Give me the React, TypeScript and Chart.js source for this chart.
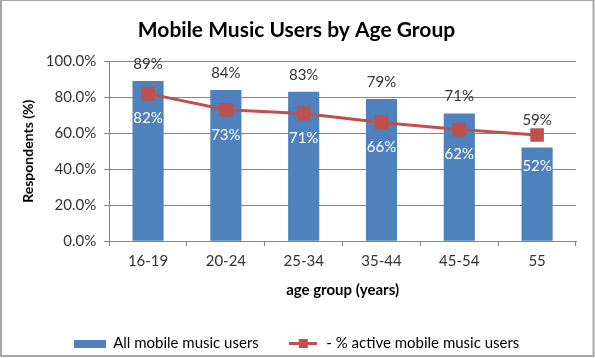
import React, { useEffect, useRef } from "react";
import { Chart, registerables } from "chart.js";

Chart.register(...registerables);

const categories = ["16-19", "20-24", "25-34", "35-44", "45-54", "55"];
const allUsers = [89, 84, 83, 79, 71, 52];
const activeUsers = [82, 73, 71, 66, 62, 59];
const yTicks = [0, 20, 40, 60, 80, 100];

const BLUE = "#4F81BD";
const RED = "#C0504D";
const FONT = "Lato, 'Open Sans', sans-serif";

function makeBarSwatch() {
  const c = document.createElement("canvas");
  c.width = 32;
  c.height = 8;
  const g = c.getContext("2d")!;
  g.fillStyle = BLUE;
  g.fillRect(0, 0, 32, 8);
  return c;
}
function makeLineSwatch() {
  const c = document.createElement("canvas");
  c.width = 28;
  c.height = 9;
  const g = c.getContext("2d")!;
  g.strokeStyle = RED;
  g.lineWidth = 3;
  g.beginPath();
  g.moveTo(0, 4.5);
  g.lineTo(28, 4.5);
  g.stroke();
  g.fillStyle = RED;
  g.fillRect(10, 0, 9, 9);
  return c;
}

const labelPlugin = {
  id: "valueLabels",
  afterDatasetsDraw(chart: any) {
    const ctx = chart.ctx;
    const barMeta = chart.getDatasetMeta(0);
    const lineMeta = chart.getDatasetMeta(1);
    ctx.save();
    ctx.font = `15px ${FONT}`;
    ctx.textAlign = "center";
    ctx.textBaseline = "middle";
    barMeta.data.forEach((bar: any, i: number) => {
      const pt = lineMeta.data[i];
      const bv = chart.data.datasets[0].data[i];
      const lv = chart.data.datasets[1].data[i];
      if (lv > bv) {
        ctx.fillStyle = "#333333";
        ctx.fillText(lv + "%", pt.x, pt.y - 15);
        ctx.fillStyle = "#ffffff";
        ctx.fillText(bv + "%", bar.x, bar.y + 19);
      } else {
        ctx.fillStyle = "#333333";
        ctx.fillText(bv + "%", bar.x, bar.y - 17);
        ctx.fillStyle = "#ffffff";
        ctx.fillText(lv + "%", pt.x, pt.y + 25);
      }
    });
    ctx.restore();
  },
};

const framePlugin = {
  id: "frame",
  afterDraw(chart: any) {
    const ctx = chart.ctx;
    ctx.save();
    ctx.strokeStyle = "#a6a6a6";
    ctx.lineWidth = 2;
    ctx.strokeRect(1, 0, chart.width - 2.5, chart.height - 2);
    ctx.restore();
  },
};

export default function App() {
  const ref = useRef<HTMLCanvasElement>(null);
  useEffect(() => {
    document.body.style.margin = "0";
    const barSwatch = makeBarSwatch();
    const lineSwatch = makeLineSwatch();
    const chart = new Chart(ref.current!, {
      type: "bar",
      data: {
        labels: categories,
        datasets: [
          {
            type: "bar",
            label: "All mobile music users",
            data: allUsers,
            backgroundColor: BLUE,
            barPercentage: 0.4,
            categoryPercentage: 1,
            order: 2,
          },
          {
            type: "line",
            label: "- % active mobile music users",
            data: activeUsers,
            borderColor: RED,
            backgroundColor: RED,
            borderWidth: 3,
            pointStyle: "rect",
            pointRadius: 7.5,
            pointBackgroundColor: RED,
            pointBorderColor: RED,
            order: 1,
          },
        ],
      },
      options: {
        animation: false,
        responsive: false,
        layout: { padding: { left: 17, right: 19, top: 0, bottom: -3 } },
        plugins: {
          tooltip: { enabled: false },
          title: {
            display: true,
            text: "Mobile Music Users by Age Group",
            color: "#000000",
            font: { family: FONT, size: 21, weight: "bold" },
            padding: { top: 18, bottom: 18 },
          },
          legend: {
            position: "bottom",
            labels: {
              usePointStyle: true,
              pointStyleWidth: 32,
              padding: 28,
              color: "#222222",
              font: { family: FONT, size: 15 },
              generateLabels: (c: any) =>
                c.data.datasets.map((d: any, i: number) => ({
                  text: d.label,
                  pointStyle: i === 0 ? barSwatch : lineSwatch,
                  fillStyle: "transparent",
                  strokeStyle: "transparent",
                  lineWidth: 0,
                  datasetIndex: i,
                  hidden: false,
                })),
            },
          },
        },
        scales: {
          x: {
            grid: {
              display: true,
              drawOnChartArea: false,
              drawTicks: true,
              tickLength: 5,
              color: "#868686",
            },
            border: { color: "#868686" },
            ticks: { color: "#333333", font: { family: FONT, size: 15 }, padding: 6 },
            title: {
              display: true,
              text: "age group (years)",
              color: "#000000",
              font: { family: FONT, size: 15, weight: "bold" },
              padding: { top: 5.4, bottom: 8.4 },
            },
          },
          y: {
            min: 0,
            max: 100,
            afterBuildTicks: (axis: any) => {
              axis.ticks = yTicks.map((v) => ({ value: v }));
            },
            grid: { color: "#868686", tickLength: 5 },
            border: { color: "#868686" },
            ticks: {
              color: "#333333",
              font: { family: FONT, size: 15 },
              padding: 8,
              callback: (v: any) => Number(v).toFixed(1) + "%",
            },
            title: {
              display: true,
              text: "Respondents (%)",
              color: "#000000",
              font: { family: FONT, size: 14, weight: "bold" },
              padding: { top: 3, bottom: 1 },
            },
          },
        },
      },
      plugins: [labelPlugin, framePlugin],
    });
    return () => chart.destroy();
  }, []);
  return (
    <div style={{ width: 595, height: 358, background: "#fff" }}>
      <canvas ref={ref} width={595} height={358} />
    </div>
  );
}
